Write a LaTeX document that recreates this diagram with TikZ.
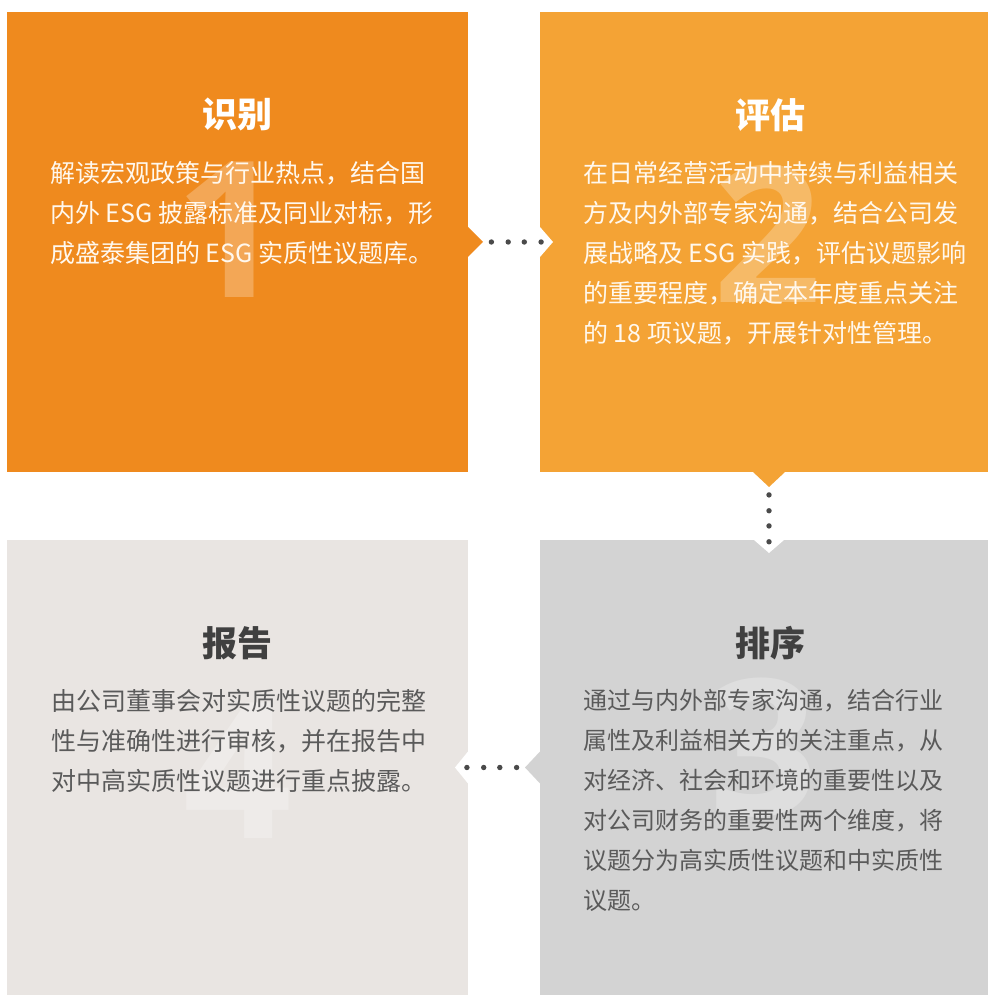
\documentclass[tikz,border=0pt]{standalone}
\usepackage{fontspec}
\setmainfont{Noto Sans CJK SC}
\newfontfamily\numfont{Open Sans}
\usetikzlibrary{positioning, calc}
\definecolor{orangeA}{HTML}{EF8A1E}
\definecolor{orangeB}{HTML}{F4A335}
\definecolor{beige}{HTML}{E9E5E2}
\definecolor{greyC}{HTML}{D3D3D3}
\definecolor{dotgrey}{HTML}{4A4A4A}
\definecolor{titlegrey}{HTML}{404040}
\definecolor{bodygrey}{HTML}{5A5A5A}
\definecolor{creamtext}{HTML}{FFF8EE}
\tikzset{
    stepbox/.style={rectangle, inner sep=0pt, outer sep=0pt, minimum height=460pt},
    title/.style={inner sep=0pt, font=\fontsize{35}{40}\selectfont\bfseries},
    body/.style={inner sep=0pt, align=left, font=\fontsize{25}{40}\selectfont},
    bignum/.style={inner sep=0pt, text=white, text opacity=0.25, font=\fontsize{190}{190}\selectfont\numfont\bfseries},
    dot/.style={fill=dotgrey}
}

\begin{document}
\begin{tikzpicture}[x=1pt, y=1pt]
\useasboundingbox (0,0) rectangle (988,995);

% Four steps
\node[stepbox, fill=orangeA, minimum width=461pt] (shibie) at (237.5,753) {};
\node[stepbox, fill=orangeB, minimum width=448pt] (pinggu) [right=72pt of shibie] {};
\node[stepbox, fill=greyC, minimum width=448pt, minimum height=455pt] (paixu) [below=68pt of pinggu] {};
\node[stepbox, fill=beige, minimum width=461pt, minimum height=455pt] (baogao) [left=72pt of paixu] {};

% Pointers and notches
\fill[orangeA] (shibie.east) ++(0,15) -- ++(15,-15) -- ++(-15,-15) -- cycle;
\fill[white] (pinggu.west) ++(0,15) -- ++(13,-15) -- ++(-13,-15) -- cycle;
\fill[orangeB] ([xshift=5pt]pinggu.south) ++(-16,0) -- ++(16,-15) -- ++(16,15) -- cycle;
\fill[white] ([xshift=5pt]paixu.north) ++(-15,0) -- ++(15,-13) -- ++(15,13) -- cycle;
\fill[greyC] (paixu.west) ++(0,16) -- ++(-15,-16) -- ++(15,-16) -- cycle;
\fill[white] (baogao.east) ++(0,16) -- ++(-13,-16) -- ++(13,-16) -- cycle;

\coordinate (tip1) at ($(shibie.east)+(15,0)$);
\coordinate (notch2) at ($(pinggu.west)+(13,0)$);
\coordinate (tip2) at ($(pinggu.south)+(5,-15)$);
\coordinate (notch4) at ($(paixu.north)+(5,-13)$);
\coordinate (tip4) at ($(paixu.west)+(-15,0)$);
\coordinate (notch3) at ($(baogao.east)+(-13,0)$);

% Big step numbers
\node[bignum] (num1) at ($(shibie.center)+(-8,12)$) {1};
\node[bignum] (num2) at ($(pinggu.center)+(4,8)$) {2};
\node[bignum] (num3) at ($(paixu.center)+(0,20)$) {3};
\node[bignum] (num4) at ($(baogao.center)+(0,-3)$) {4};

% Titles
\node[title, text=white, below=86pt of shibie.north] (title1) {识别};
\node[title, text=white, below=86pt of pinggu.north, xshift=6pt] (title2) {评估};
\node[title, text=titlegrey, below=86pt of paixu.north, xshift=6pt] (title3) {排序};
\node[title, text=titlegrey, below=86pt of baogao.north] (title4) {报告};

% Texts
\node[body, text=creamtext, below right=149pt and 43pt of shibie.north west] (text1)
    {解读宏观政策与行业热点，结合国\\内外 ESG 披露标准及同业对标，形\\成盛泰集团的 ESG 实质性议题库。};
\node[body, text=creamtext, below right=149pt and 43pt of pinggu.north west] (text2)
    {在日常经营活动中持续与利益相关\\方及内外部专家沟通，结合公司发\\展战略及 ESG 实践，评估议题影响\\的重要程度，确定本年度重点关注\\的 18 项议题，开展针对性管理。};
\node[body, text=bodygrey, font=\fontsize{24}{40}\selectfont, below right=149pt and 43pt of paixu.north west] (text3)
    {通过与内外部专家沟通，结合行业\\属性及利益相关方的关注重点，从\\对经济、社会和环境的重要性以及\\对公司财务的重要性两个维度，将\\议题分为高实质性议题和中实质性\\议题。};
\node[body, text=bodygrey, below right=149pt and 44pt of baogao.north west] (text4)
    {由公司董事会对实质性议题的完整\\性与准确性进行审核，并在报告中\\对中高实质性议题进行重点披露。};

% Dotted links
\foreach \t in {0.12,0.36,0.59,0.83} {
    \fill[dot] ($(tip1)!\t!(notch2)$) circle (2.7pt);
    \fill[dot] ($(tip2)!\t!(notch4)$) circle (2.7pt);
    \fill[dot] ($(tip4)!\t!(notch3)$) circle (2.7pt);
}

\end{tikzpicture}
\end{document}
